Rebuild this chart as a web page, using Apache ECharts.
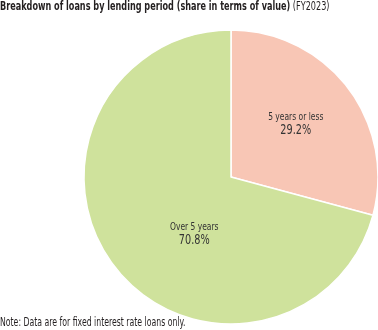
<!DOCTYPE html>
<html>
<head>
<meta charset="utf-8">
<script src="https://cdn.jsdelivr.net/npm/echarts@6/dist/echarts.min.js"></script>
<style>
  html, body { margin: 0; padding: 0; background: #fff; }
  #chart { width: 378px; height: 330px; }
</style>
</head>
<body>
<div id="chart"></div>
<script>
// Lending-period categories and their shares of loan value (%)
const categories = ['5 years or less', 'Over 5 years'];
const shares = [29.2, 70.8];
const sliceColors = ['#f8c6b5', '#cfe29c'];
// Per-slice label nudges from the default inside position
const labelOffsets = [[4, -6], [24, 11]];

const FONT = '"DejaVu Sans Condensed", "DejaVu Sans", sans-serif';
const INK = '#231f20';
// Horizontal squeeze giving the narrow, condensed lettering
const NARROW_TITLE = 0.785;
const NARROW_NOTE = 0.72;
const NARROW_LABEL = 0.8;

const chart = echarts.init(document.getElementById('chart'), null, { renderer: 'canvas' });

chart.setOption({
  animation: false,
  graphic: [
    {
      type: 'text',
      x: 0,
      y: 1,
      scaleX: NARROW_TITLE,
      silent: true,
      style: {
        text: '{b|Breakdown of loans by lending period (share in terms of value)} {r|(FY2023)}',
        rich: {
          b: { fontFamily: FONT, fontSize: 11.5, fontWeight: 'bold', fill: INK },
          r: { fontFamily: FONT, fontSize: 11.5, fontWeight: 'normal', fill: INK }
        }
      }
    },
    {
      type: 'text',
      x: 0,
      y: 317,
      scaleX: NARROW_NOTE,
      silent: true,
      style: {
        text: 'Note: Data are for fixed interest rate loans only.',
        fontFamily: FONT,
        fontSize: 12,
        fill: INK
      }
    }
  ],
  series: [{
    type: 'pie',
    center: [231, 177],
    radius: 147,
    startAngle: 90,
    clockwise: true,
    silent: true,
    itemStyle: { borderColor: '#ffffff', borderWidth: 1.5 },
    label: {
      show: true,
      position: 'inside',
      formatter: p => '{n|' + p.name + '}\n{v|' + p.value.toFixed(1) + '%}',
      rich: {
        n: { fontFamily: FONT, fontSize: 10.5, color: '#333333', lineHeight: 12, align: 'center' },
        v: { fontFamily: FONT, fontSize: 13.5, color: '#333333', lineHeight: 15, align: 'center' }
      }
    },
    labelLine: { show: false },
    data: categories.map((name, i) => ({
      name,
      value: shares[i],
      itemStyle: { color: sliceColors[i] },
      label: { offset: labelOffsets[i] }
    }))
  }]
});

// Narrow the slice labels to the same condensed width as the other text
const pieData = chart.getModel().getSeriesByIndex(0).getData();
pieData.each(idx => {
  const el = pieData.getItemGraphicEl(idx);
  const label = el && el.getTextContent();
  if (label) {
    label.scaleX = NARROW_LABEL;
    label.markRedraw();
  }
});
</script>
</body>
</html>
